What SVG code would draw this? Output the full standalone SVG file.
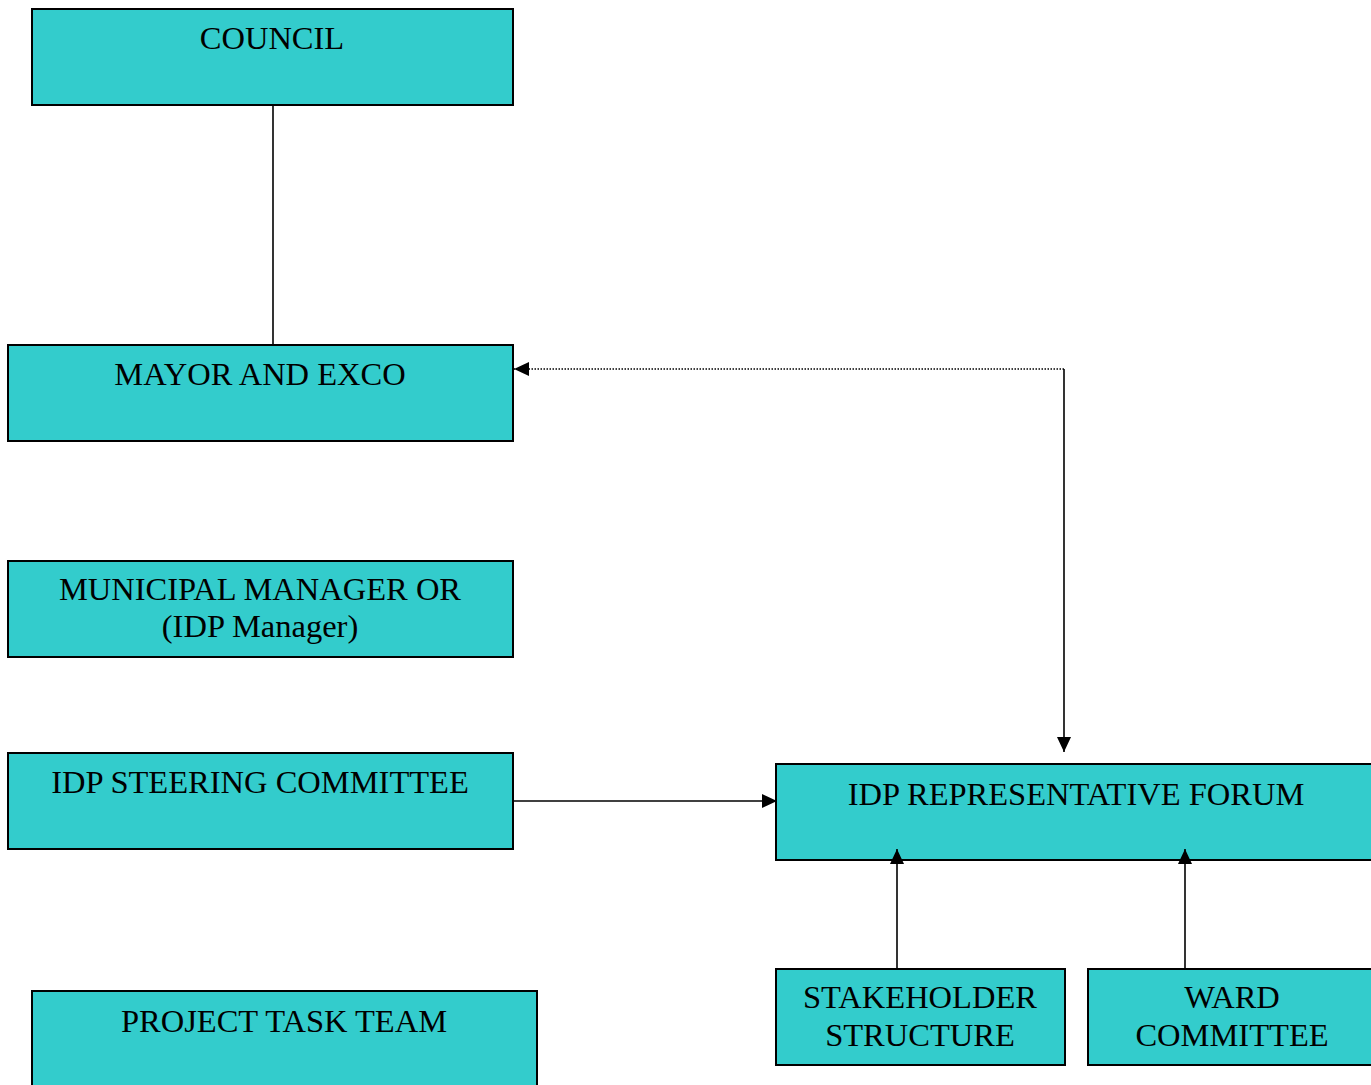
<svg xmlns="http://www.w3.org/2000/svg" width="1371" height="1085" viewBox="0 0 1371 1085">
<style>
.box{fill:#33CCCC;stroke:#000;stroke-width:2}
.t{font-family:"Liberation Serif","Times New Roman",serif;font-size:32.5px;fill:#000;text-anchor:middle}
.c{stroke:#000;stroke-width:1.6;fill:none}
.d{stroke:#000;stroke-width:1.4;fill:none;stroke-dasharray:1.5 1.5}
</style>
<defs>
<marker id="ah" markerWidth="15" markerHeight="14" refX="15" refY="7" orient="auto" markerUnits="userSpaceOnUse">
<path d="M0,0 L15,7 L0,14 Z" fill="#000"/>
</marker>
</defs>
<rect width="1371" height="1085" fill="#fff"/>
<g id="council"><rect class="box" x="32" y="9" width="481" height="96"/><text class="t" x="272" y="49">COUNCIL</text></g>
<g id="mayor"><rect class="box" x="8" y="345" width="505" height="96"/><text class="t" x="260" y="385">MAYOR AND EXCO</text></g>
<g id="mm"><rect class="box" x="8" y="561" width="505" height="96"/><text class="t" x="260" y="600">MUNICIPAL MANAGER OR</text><text class="t" x="260" y="637">(IDP Manager)</text></g>
<g id="steering"><rect class="box" x="8" y="753" width="505" height="96"/><text class="t" x="260" y="793">IDP STEERING COMMITTEE</text></g>
<g id="ptt"><rect class="box" x="32" y="991" width="505" height="100"/><text class="t" x="284" y="1032">PROJECT TASK TEAM</text></g>
<g id="forum"><rect class="box" x="776" y="764" width="600" height="96"/><text class="t" x="1076" y="805">IDP REPRESENTATIVE FORUM</text></g>
<g id="stakeholder"><rect class="box" x="776" y="969" width="289" height="96"/><text class="t" x="920" y="1008">STAKEHOLDER</text><text class="t" x="920" y="1046">STRUCTURE</text></g>
<g id="ward"><rect class="box" x="1088" y="969" width="290" height="96"/><text class="t" x="1232" y="1008">WARD</text><text class="t" x="1232" y="1046">COMMITTEE</text></g>
<g id="connectors">
<line class="c" x1="273" y1="105" x2="273" y2="345"/>
<line class="d" x1="1064" y1="369" x2="514" y2="369" marker-end="url(#ah)"/>
<line class="c" x1="1064" y1="369" x2="1064" y2="752" marker-end="url(#ah)"/>
<line class="c" x1="513" y1="801" x2="777" y2="801" marker-end="url(#ah)"/>
<line class="c" x1="897" y1="968" x2="897" y2="849" marker-end="url(#ah)"/>
<line class="c" x1="1185" y1="968" x2="1185" y2="849" marker-end="url(#ah)"/>
</g>
</svg>
